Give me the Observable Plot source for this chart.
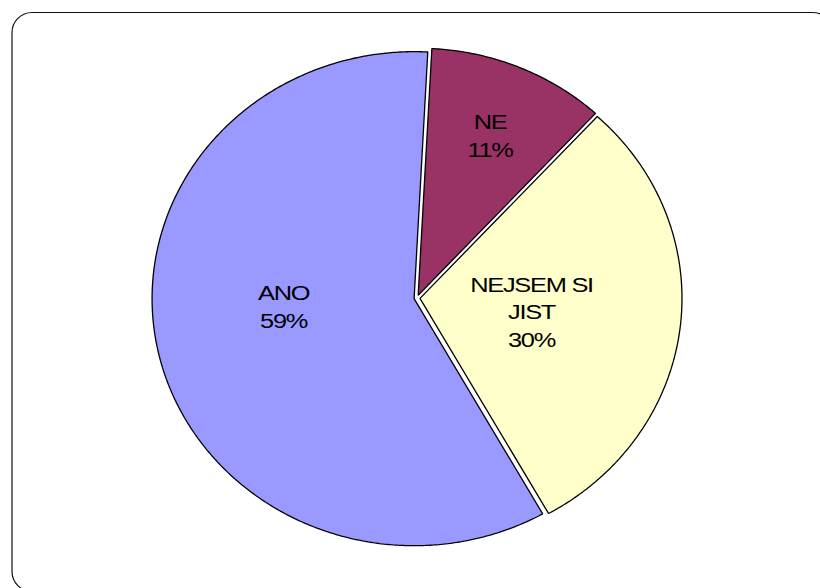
<!DOCTYPE html>
<html>
<head>
<meta charset="utf-8">
<script src="https://cdn.jsdelivr.net/npm/d3@7"></script>
<script src="https://cdn.jsdelivr.net/npm/@observablehq/plot@0.6"></script>
<style>
  html, body { margin: 0; padding: 0; background: #fff; overflow: hidden; }
  #chart svg { display: block; }
  #chart g[aria-label="text"] text { letter-spacing: -1px; }
</style>
</head>
<body>
<div id="chart"></div>
<script>
// Survey answers, in the order the slices run clockwise from the top
const categories = ["NE", "NEJSEM SI JIST", "ANO"];
const sliceLabels = ["NE", "NEJSEM SI\nJIST", "ANO"];
const shares = [11, 30, 59]; // percent
const sliceColors = ["#993366", "#FFFFCC", "#9999FF"];

// Layout
const W = 820, H = 588;
const cx = 416.5, cy = 297.5;   // pie centre (px)
const rx = 262, ry = 247;       // pie radii (px), slightly oval
const startAngle = 3;           // degrees clockwise from 12 o'clock
const explodePx = 3;            // every slice pulled out a little
const labelPlacement = {        // radial fraction and angular nudge per label
  "NE": {r: 0.72, turn: 0},
  "NEJSEM SI JIST": {r: 0.44, turn: 0},
  "ANO": {r: 0.51, turn: 10}
};

const total = d3.sum(shares);
const rad = (deg) => deg * Math.PI / 180;

// Slice outlines in pie units (u to the right, v upwards; radius 1)
const outline = [];
const labelRows = [];
let a = startAngle;
categories.forEach((cat, i) => {
  const span = shares[i] / total * 360;
  const a0 = a, a1 = a + span, mid = (a0 + a1) / 2;
  const ou = explodePx / rx * Math.sin(rad(mid));
  const ov = explodePx / ry * Math.cos(rad(mid));
  outline.push({cat, u: ou, v: ov});
  const steps = Math.max(2, Math.ceil(span * 2));
  for (let k = 0; k <= steps; ++k) {
    const t = a0 + span * k / steps;
    outline.push({cat, u: ou + Math.sin(rad(t)), v: ov + Math.cos(rad(t))});
  }
  const p = labelPlacement[cat];
  const la = mid + p.turn;
  labelRows.push({
    cat,
    u: p.r * Math.sin(rad(la)),
    v: p.r * Math.cos(rad(la)),
    text: `${sliceLabels[i]}\n${shares[i]}%`
  });
  a = a1;
});

const chart = Plot.plot({
  width: W,
  height: H,
  margin: 0,
  style: {background: "#fff", fontFamily: "'Liberation Sans', Arial, sans-serif"},
  x: {domain: [-cx / rx, (W - cx) / rx], axis: null},
  y: {domain: [(cy - H) / ry, cy / ry], axis: null},
  color: {domain: categories, range: sliceColors},
  marks: [
    Plot.frame({
      insetLeft: 11.5, insetTop: 12, insetRight: -12, insetBottom: -3,
      rx: 20, stroke: "#111", strokeWidth: 1.2, fill: "none"
    }),
    Plot.line(outline, {
      x: "u", y: "v", z: "cat", fill: "cat",
      stroke: "#000", strokeWidth: 1.3, strokeLinejoin: "miter",
      curve: "linear-closed"
    }),
    Plot.text(labelRows, {
      x: "u", y: "v", text: "text",
      fontSize: 20, lineHeight: 1.375, lineAnchor: "middle",
      fill: "#000", fontFamily: "'Liberation Sans', Arial, sans-serif"
    })
  ]
});

// Labels are set in a horizontally widened, tightly tracked face
chart.querySelectorAll('g[aria-label="text"] text').forEach((t) => {
  t.setAttribute("transform", (t.getAttribute("transform") || "") + " scale(1.27,1)");
});

document.getElementById("chart").append(chart);
</script>
</body>
</html>
